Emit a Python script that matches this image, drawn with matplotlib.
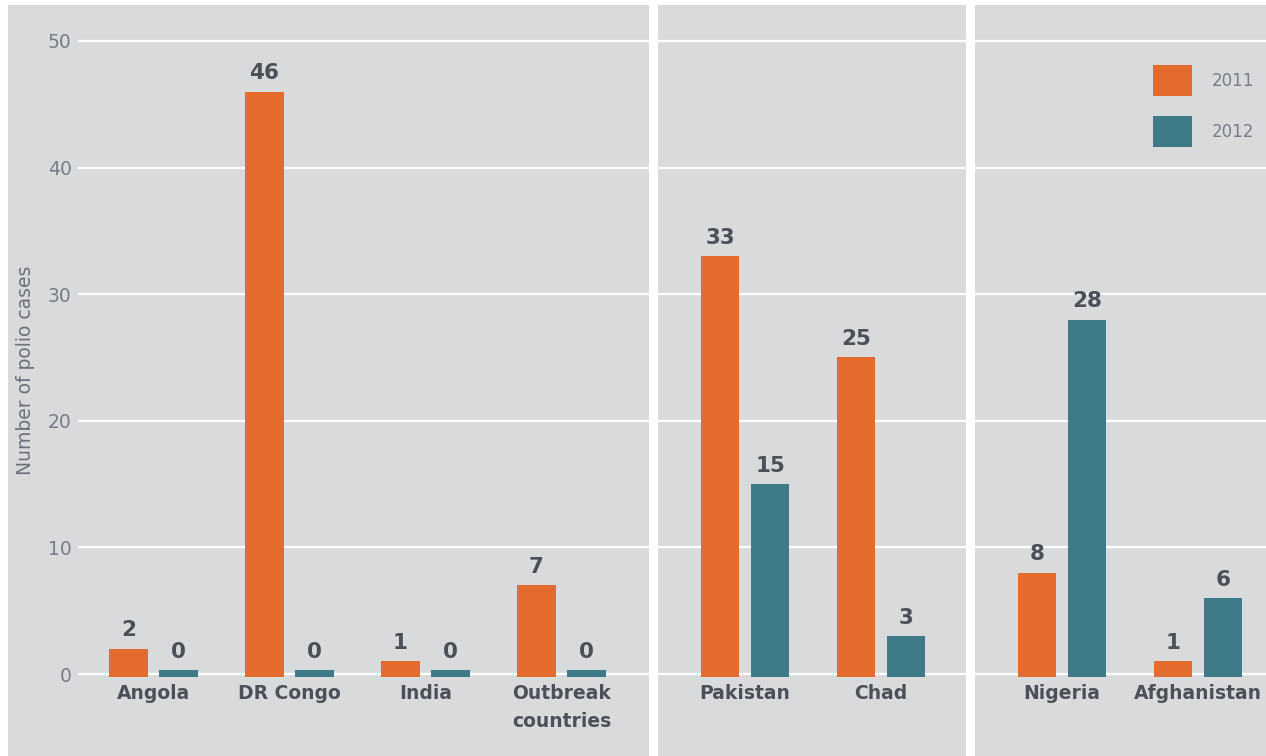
import numpy as np
import matplotlib
matplotlib.use("Agg")
import matplotlib.pyplot as plt
from matplotlib.patches import Patch, Rectangle

# %% data
countries = ["Angola", "DR Congo", "India", "Outbreak\ncountries",
             "Pakistan", "Chad", "Nigeria", "Afghanistan"]
cases_2011 = [2, 46, 1, 7, 33, 25, 8, 1]
cases_2012 = [0, 0, 0, 0, 15, 3, 28, 6]
years = ["2011", "2012"]
y_ticks = [0, 10, 20, 30, 40, 50]

# layout: group centres (three panels) and panel dividers
group_x = np.array([0, 1, 2, 3, 4.35, 5.35, 6.68, 7.68])
dividers = [3.67, 6.0]

BG = "#d9dadc"
ORANGE = "#e36b2d"
TEAL = "#3e7a87"
TXT = "#4c5058"
TICK = "#777c86"

W, H = 1266, 756
fig = plt.figure(figsize=(W / 100, H / 100), dpi=100)
fig.patch.set_facecolor(BG)
# thin white margins top / left
fig.add_artist(Rectangle((0, 1 - 5 / H), 1, 5 / H, transform=fig.transFigure,
                         facecolor="white", edgecolor="none"))
fig.add_artist(Rectangle((0, 0), 8 / W, 1, transform=fig.transFigure,
                         facecolor="white", edgecolor="none"))

ax = fig.add_axes([78 / W, 0, 1 - 78 / W, (H - 5) / H])
ax.set_facecolor("none")
px_per_unit = (674 - 41) / 50
ax.set_ylim(-(H - 674) / px_per_unit, 50 + (41 - 5) / px_per_unit)
ax.set_xlim((78 - 153.5) / 136, (W - 153.5) / 136)

for s in ax.spines.values():
    s.set_visible(False)
ax.spines["bottom"].set_position(("data", 0))

ax.set_yticks(y_ticks)
ax.tick_params(axis="y", length=0, pad=4.5, labelsize=13.5, labelcolor=TICK)
ax.grid(axis="y", color="white", linewidth=1.6)
ax.set_axisbelow(True)

for d in dividers:
    ax.axvline(d, color="white", linewidth=6.5, zorder=1)

off, bw = 0.184, 0.28
v11 = np.array(cases_2011, dtype=float)
v12 = np.array(cases_2012, dtype=float)
base = -0.2
h11 = np.where(v11 == 0, 0.5, v11 - base)
h12 = np.where(v12 == 0, 0.5, v12 - base)
ax.bar(group_x - off, h11, bw, bottom=base, color=ORANGE, zorder=3)
ax.bar(group_x + off, h12, bw, bottom=base, color=TEAL, zorder=3)

for xs, vals, hs in [(group_x - off, v11, h11), (group_x + off, v12, h12)]:
    for x, v, h in zip(xs, vals, hs):
        ax.annotate(f"{int(v)}", (x, base + h), xytext=(0, 9), textcoords="offset points",
                    ha="center", va="baseline", fontsize=15.5, fontweight="bold",
                    color=TXT, zorder=4)

ax.set_xticks(group_x)
ax.set_xticklabels(countries, fontsize=13.5, fontweight="bold", color=TXT, linespacing=1.55)
ax.tick_params(axis="x", length=0, pad=7.5)

ax.set_ylabel("Number of polio cases", fontsize=13.5, color="#6b7079")
ax.yaxis.set_label_coords((35 - 78) / (W - 78), (H - 370) / (H - 5))

handles = [Patch(facecolor=ORANGE, edgecolor="none"), Patch(facecolor=TEAL, edgecolor="none")]
ax.legend(handles, years, loc="upper left", bbox_to_anchor=(1153 / W, 1 - 65 / H),
          bbox_transform=fig.transFigure, frameon=False, fontsize=12,
          handlelength=2.35, handleheight=2.5, handletextpad=1.2, labelspacing=1.2,
          borderpad=0, borderaxespad=0, labelcolor=TICK)

fig.savefig("out.png", dpi=100, facecolor=fig.get_facecolor())
